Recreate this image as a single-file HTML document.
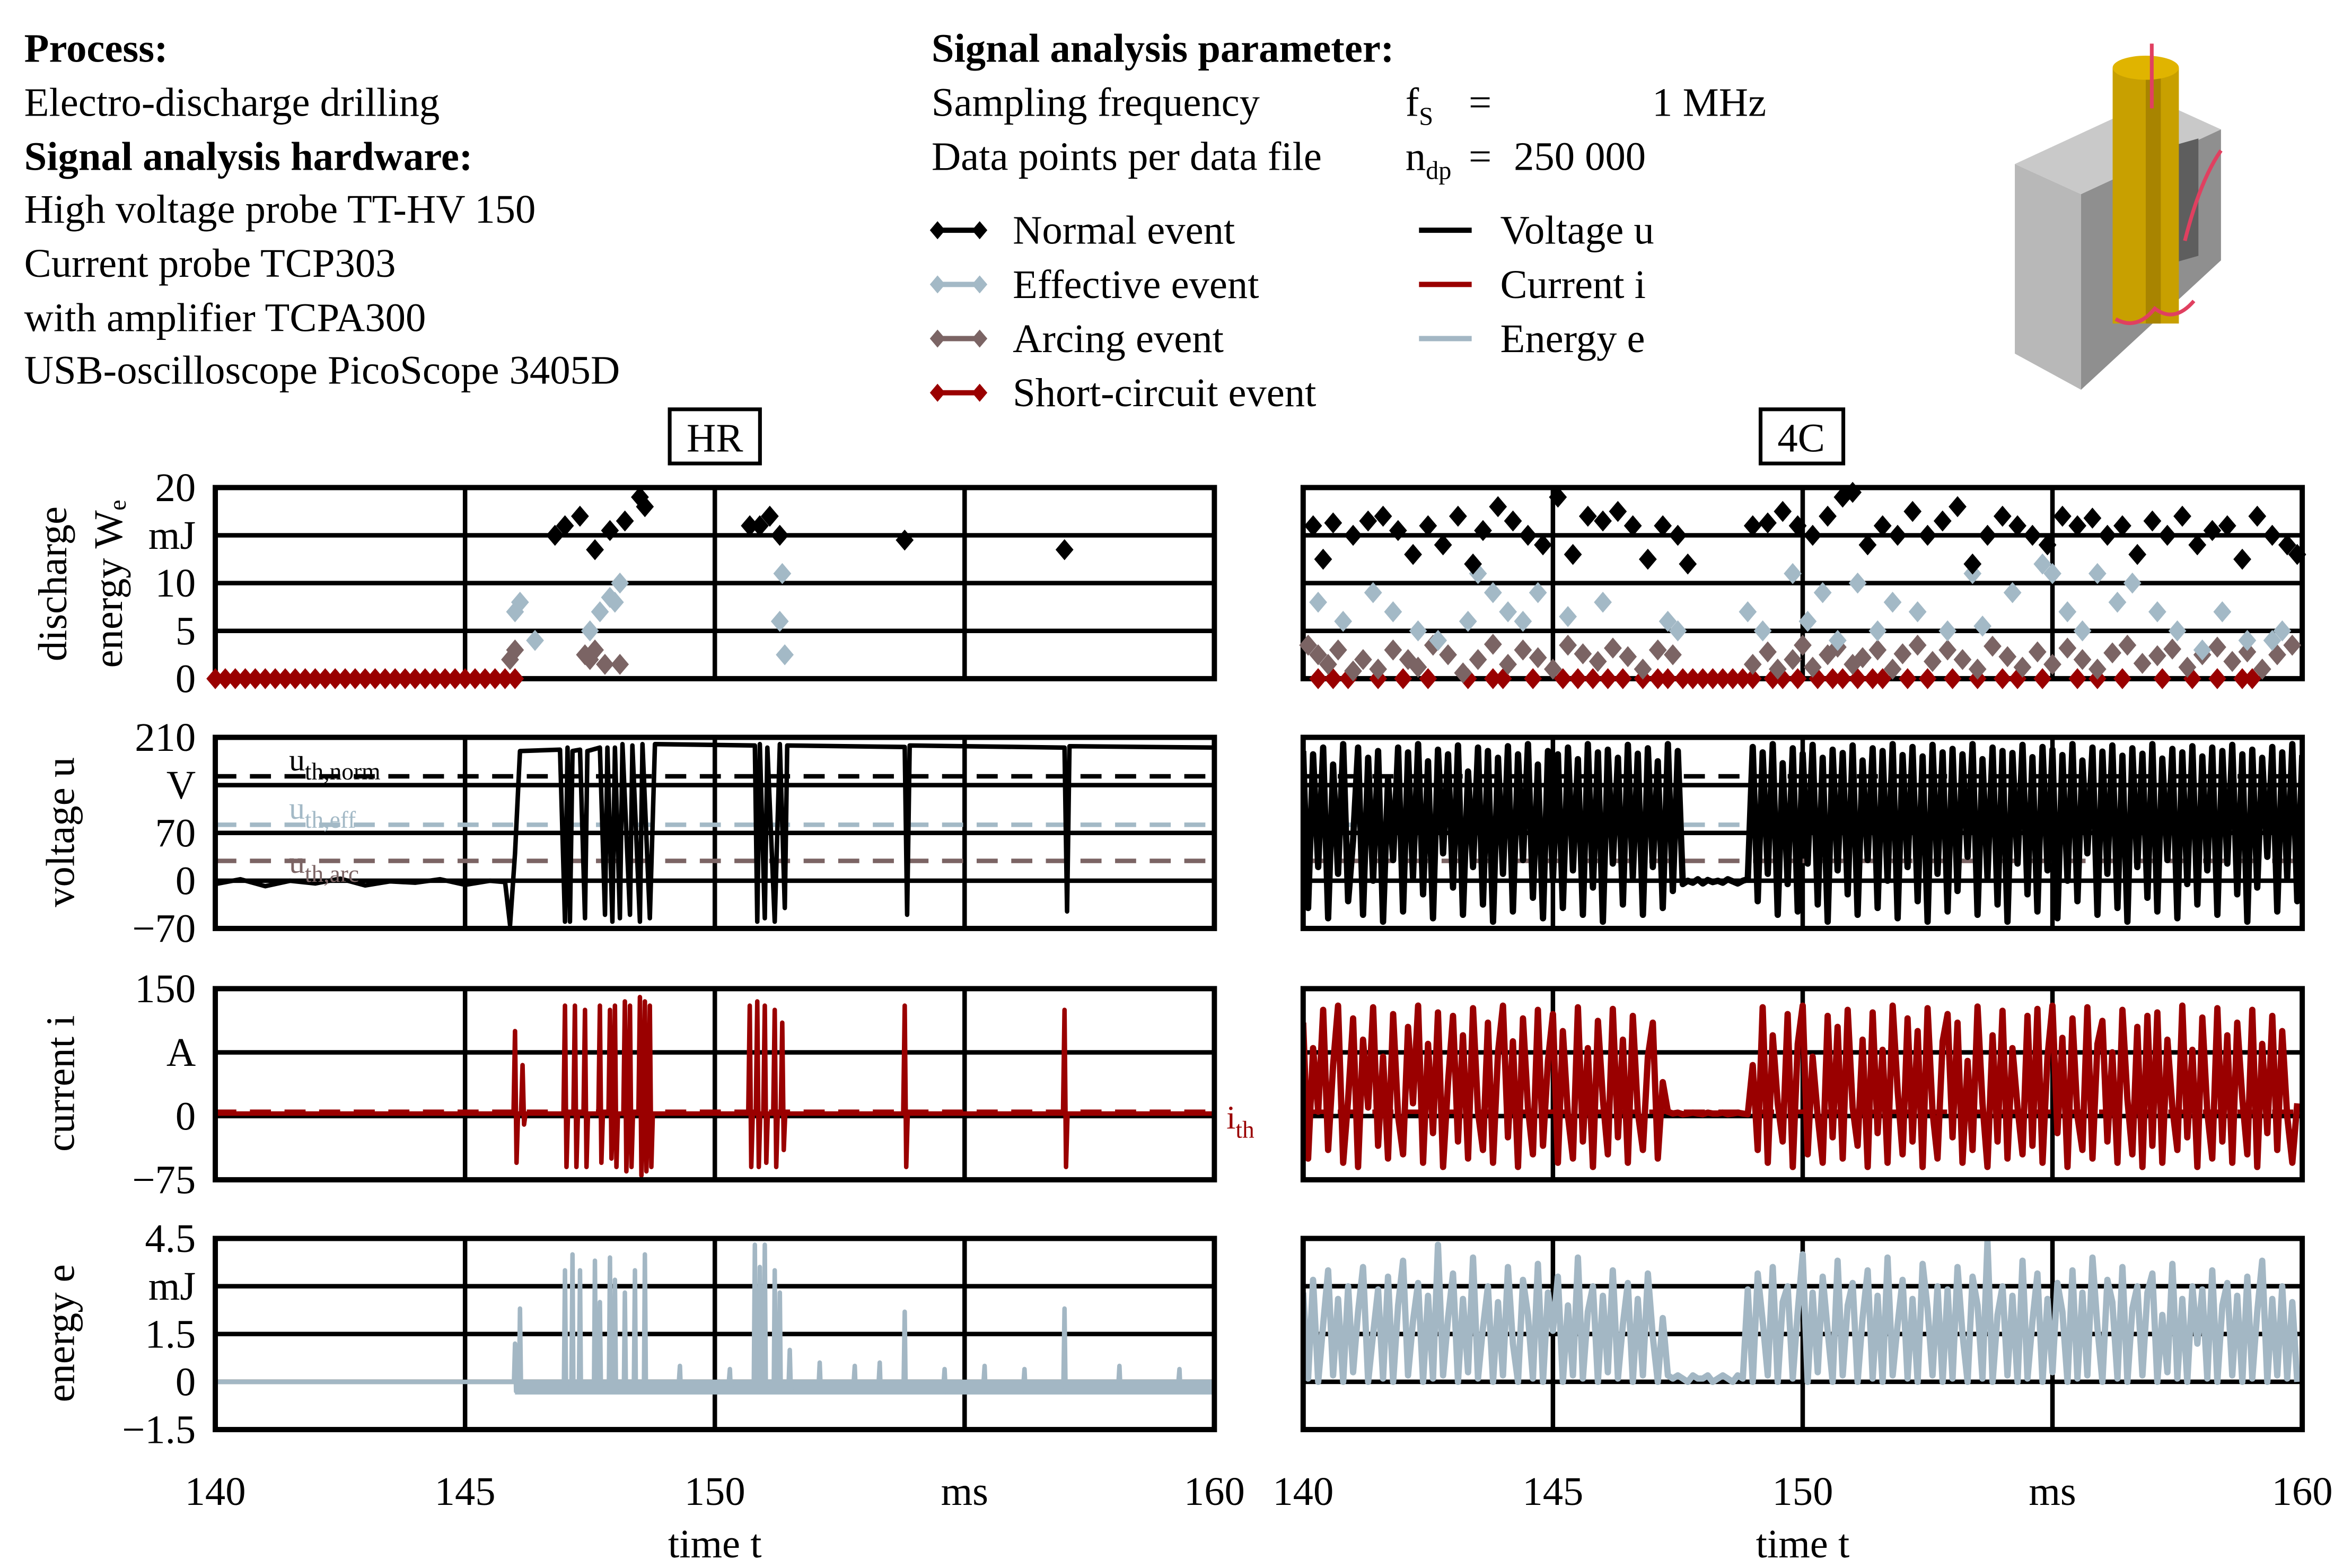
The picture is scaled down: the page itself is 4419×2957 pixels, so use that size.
<!DOCTYPE html>
<html><head><meta charset="utf-8"><style>
html,body{margin:0;padding:0;background:#fff;}
svg{display:block;}
text{font-family:"Liberation Serif",serif;}
</style></head><body>
<svg id="chart" width="4419" height="2957" viewBox="0 0 1557 1042" xmlns="http://www.w3.org/2000/svg">
<g font-size="27">
<text x="16" y="41" font-weight="bold">Process:</text>
<text x="16" y="77">Electro-discharge drilling</text>
<text x="16" y="113" font-weight="bold">Signal analysis hardware:</text>
<text x="16" y="148">High voltage probe TT-HV 150</text>
<text x="16" y="184">Current probe TCP303</text>
<text x="16" y="220">with amplifier TCPA300</text>
<text x="16" y="255">USB-oscilloscope PicoScope 3405D</text>
</g>
<g font-size="27">
<text x="619" y="41" font-weight="bold">Signal analysis parameter:</text>
<text x="619" y="77">Sampling frequency</text>
<text x="934" y="77">f<tspan font-size="17" dy="6">S</tspan></text>
<text x="976" y="77">=</text>
<text x="1098" y="77">1  MHz</text>
<text x="619" y="113">Data points per data file</text>
<text x="934" y="113">n<tspan font-size="17" dy="6">dp</tspan></text>
<text x="976" y="113">=</text>
<text x="1006" y="113">250 000</text>
</g>
<g id="legend" font-size="27"></g>
<g>
<polygon points="1339,109 1383,129 1383,259 1339,235" fill="#b8b8b8"/>
<polygon points="1383,129 1476,86 1476,173 1383,259" fill="#8f8f8f"/>
<polygon points="1339,109 1432,66 1476,86 1383,129" fill="#c9c9c9"/>
<polygon points="1408,107 1461,92 1461,170 1408,185" fill="#5e5e5e"/>
<rect x="1404" y="45" width="44" height="170" fill="#c8a000"/>
<rect x="1426" y="45" width="10" height="170" fill="#a88400"/>
<ellipse cx="1426" cy="45" rx="22" ry="8" fill="#e0b400"/>
<path d="M1430,29 L1430,72 M1452,160 Q1462,120 1476,100 M1406,212 Q1420,220 1432,205 Q1445,215 1458,200" stroke="#e04060" stroke-width="2.5" fill="none"/>
</g>
<g><rect x="445" y="272" width="60" height="36" fill="#fff" stroke="#000" stroke-width="2.5"/><text x="475" y="300" font-size="27" text-anchor="middle">HR</text></g>
<g><rect x="1170" y="272" width="55" height="36" fill="#fff" stroke="#000" stroke-width="2.5"/><text x="1197" y="300" font-size="27" text-anchor="middle">4C</text></g>
<g id="panels"></g>
</svg>
<script>
// ---------- data ----------
const xTicks=["140","145","150","ms","160"];
const yTicksWe=["20","mJ","10","5","0"];
const yTicksU=["210","V","70","0","\u221270"];
const yTicksI=["150","A","0","\u221275"];
const yTicksE=["4.5","mJ","1.5","0","\u22121.5"];
const thresholds=[153,82,29];
const currentThreshold=5;
// HR discharge events
const hrNormT=[146.8,147.0,147.3,147.6,147.9,148.2,148.5,148.6,150.7,150.9,151.1,151.3,153.8,157.0];
const hrNormV=[15,16,17,13.5,15.5,16.5,19,18,16,16,17,15,14.5,13.5];
const hrEffT=[146.0,146.1,146.4,147.5,147.7,147.9,148.0,148.1,151.35,151.3,151.4];
const hrEffV=[7,8,4,5,7,8.5,8,10,11,6,2.5];
const hrArcT=[145.9,146.0,147.4,147.6,147.8,148.1,147.5];
const hrArcV=[2,3,2.5,3,1.5,1.5,2];
const hrShortT=[140.0,140.2,140.4,140.6,140.8,141.0,141.2,141.4,141.6,141.8,142.0,142.2,142.4,142.6,142.8,143.0,143.2,143.4,143.6,143.8,144.0,144.2,144.4,144.6,144.8,145.0,145.2,145.4,145.6,145.8,146.0];
// 4C discharge events
const rNormT=[140.2,140.4,140.6,141.0,141.3,141.6,141.9,142.2,142.5,142.8,143.1,143.4,143.6,143.9,144.2,144.5,144.8,145.1,145.4,145.7,146.0,146.3,146.6,146.9,147.2,147.5,147.7,149.0,149.3,149.6,149.9,150.2,150.5,150.8,151.0,151.3,151.6,151.9,152.2,152.5,152.8,153.1,153.4,153.7,154.0,154.3,154.6,154.9,155.2,155.5,155.8,156.1,156.4,156.7,157.0,157.3,157.6,157.9,158.2,158.5,158.8,159.1,159.4,159.7,159.9];
const rNormV=[16,12.5,16.3,15,16.5,17,15.5,13,16,14,17,12,15.5,18,16.5,15,14,19,13,17,16.5,17.5,16,12.5,16,15,12,16,16.3,17.5,16,15,17,19,19.5,14,16,15,17.5,15,16.5,18,12,15,17,16,15,14,17,16,16.8,15,16,13,16.5,15,17,14,15.5,16,12.5,17,15,14,13];
const rEffT=[140.3,140.8,141.4,141.8,142.3,142.7,143.3,143.5,143.8,144.1,144.4,144.7,145.3,146.0,147.3,147.5,148.9,149.2,149.8,150.1,150.4,150.7,151.1,151.5,151.8,152.3,152.9,153.4,153.6,154.2,154.8,155.0,155.3,155.6,155.9,156.3,156.6,157.1,157.5,158.0,158.4,158.9,159.4,159.6];
const rEffV=[8,6,9,7,5,4,6,11,9,7,6,9,6.5,8,6,5,7,5,11,6,9,4,10,5,8,7,5,11,5.5,9,12,11,7,5,11,8,10,7,5,3,7,4,4,5];
const rArcT=[140.1,140.3,140.5,140.7,141.0,141.2,141.5,141.8,142.1,142.3,142.6,142.9,143.2,143.5,143.8,144.1,144.4,144.7,145.0,145.3,145.6,145.9,146.2,146.5,146.8,147.1,147.4,149.0,149.3,149.5,149.8,150.0,150.2,150.5,150.7,151.0,151.2,151.5,151.8,152.0,152.3,152.6,152.9,153.2,153.5,153.8,154.1,154.4,154.7,155.0,155.3,155.6,155.9,156.2,156.5,156.8,157.1,157.4,157.7,158.0,158.3,158.6,158.9,159.2,159.5,159.8];
const rArcV=[3.5,2.5,1.5,3,0.8,2,1,3,2,1.2,3.5,2.5,0.6,2,3.6,1.5,3,2.2,1,3.5,2.6,1.8,3.2,2.3,1,3,2.5,1.5,2.8,1,2,3.5,1.2,2.5,3.3,1.5,2.2,3,1,2.6,3.5,1.8,3,2,1,3.4,2.3,1.2,2.8,1.5,3.2,2,1,2.7,3.5,1.6,2.4,3.1,1.2,2.5,3.3,1.8,2.8,1,2.5,3.5];
const rShortT=[140.3,140.6,140.9,141.5,142.0,142.5,143.3,143.8,144.0,144.6,145.2,145.5,145.8,146.1,146.4,146.8,147.1,147.3,147.6,147.8,148.0,148.2,148.4,148.6,148.8,149.0,149.4,149.6,149.9,150.3,150.6,150.8,151.1,151.4,151.6,152.1,152.5,153.0,153.5,154.0,154.3,154.8,155.5,155.9,156.4,157.2,157.8,158.3,158.8,159.0];
// HR voltage (breakpoints)
const hrVoltT=[140,140.5,141,141.5,142,142.5,143,143.5,144,144.5,145,145.5,145.8,145.9,146.0,146.1,146.9,147.0,147.05,147.1,147.15,147.3,147.4,147.45,147.7,147.8,147.85,147.95,148.0,148.1,148.15,148.3,148.35,148.5,148.55,148.7,148.8,150.8,150.85,150.9,151.0,151.05,151.2,151.3,151.4,151.45,153.8,153.85,153.9,157.0,157.05,157.1,160];
const hrVoltV=[-5,2,-8,0,-4,3,-7,-1,-3,2,-6,0,-2,-65,40,190,192,-60,195,-60,190,192,-55,190,195,-50,195,-60,195,-55,200,-50,198,-60,200,-55,200,198,-60,200,-55,195,-60,200,-40,198,196,-50,198,195,-45,197,195];
// HR current spikes
const hrCurT=[146.0,146.15,147.0,147.2,147.4,147.7,147.9,148.0,148.2,148.3,148.5,148.6,148.7,150.7,150.85,151.0,151.2,151.35,153.8,157.0];
const hrCurHi=[100,60,130,130,125,130,125,130,135,130,140,135,130,130,135,130,125,110,130,125];
const hrCurLo=[-55,-10,-60,-60,-60,-55,-50,-60,-65,-60,-70,-65,-60,-60,-60,-55,-60,-40,-60,-60];
// HR energy spikes
const hrEnT=[146.0,146.1,147.0,147.15,147.3,147.6,147.7,147.9,148.0,148.2,148.4,148.6,150.8,150.9,151.0,151.2,151.3,151.5,153.8,157.0,149.3,150.3,152.1,152.8,153.3,154.6,155.4,156.2,158.1,159.3];
const hrEnV=[1.2,2.3,3.5,4.0,3.5,3.8,2.5,3.9,3.2,2.8,3.5,4.0,4.3,3.6,4.3,3.5,2.8,1.0,2.2,2.3,0.5,0.4,0.6,0.5,0.6,0.4,0.5,0.4,0.5,0.4];
// 4C series (sampled every 0.1 ms from 140 ms)
const rVolt=[190,-40,185,20,195,-55,170,10,200,-30,60,195,-50,180,0,190,-60,150,30,195,-45,188,5,200,-20,175,-55,192,40,185,-10,198,-50,160,20,195,-35,190,-60,180,10,197,-45,185,30,200,-25,170,-55,190,0,185,-40,195,15,178,-50,200,-10,188,-60,192,25,180,-35,199,5,186,-50,194,20,175,-40,200,-15,190,-5,0,-3,2,-4,1,-2,0,-3,2,-1,-4,0,2,196,-30,188,10,200,-50,172,-5,194,-45,186,25,199,-35,180,-60,192,15,187,-20,198,-50,176,30,194,-40,190,0,200,-55,184,20,196,-30,182,-60,199,10,188,-45,193,-15,185,35,200,-50,178,5,195,-35,190,-60,187,25,199,-20,181,-45,196,15,192,-55,184,0,200,-30,176,40,195,-50,189,10,198,-40,183,-60,194,20,186,-25,200,-45,179,30,193,-55,188,-5,197,-35,182,15,195,-50,190,25,199,-20,185,-60,192,-10,180,35,196,-45,188,5,200,-30,184];
const rCur=[110,-50,80,5,125,-40,60,130,-55,20,115,-60,90,10,128,-35,70,-50,120,0,-45,105,15,130,-55,85,-20,122,-60,40,118,-30,95,-50,127,5,-40,110,-55,75,130,-25,88,-60,115,10,-45,125,-35,65,120,-55,100,0,-50,128,-30,80,-60,112,20,-45,126,-25,90,-55,118,5,-40,70,110,-50,40,5,3,4,2,3,4,3,2,4,3,3,4,2,3,4,3,2,60,-40,128,-55,95,15,-30,120,-60,85,130,-45,70,0,-55,118,-25,105,-50,125,10,-35,90,-60,122,-20,78,-55,130,30,-45,115,-30,100,-60,127,5,-50,88,120,-25,110,-55,65,-40,129,15,-60,95,-30,124,-50,80,10,-45,118,-35,126,-55,70,130,-20,92,-60,115,0,-40,128,-50,85,112,-30,75,-55,125,20,-45,105,-60,118,-35,122,-55,90,10,-40,130,-25,78,-60,116,5,-50,127,-30,95,-55,110,20,-45,125,-60,85,-20,118,-40,100,0,-55,15];
const rEn=[2.8,0.1,3.2,0.0,1.8,3.5,0.2,2.6,0.0,3.0,0.3,2.2,3.6,0.0,1.5,2.9,0.1,3.3,0.0,2.4,3.8,0.2,1.9,3.1,0.0,2.7,0.1,4.3,0.2,2.0,3.4,0.0,2.6,0.3,3.9,0.1,1.7,3.0,0.0,2.5,0.2,3.6,1.2,0.0,3.2,2.1,0.1,3.7,0.0,2.8,1.6,3.3,0.0,2.4,0.2,3.9,0.1,2.2,3.0,0.0,2.7,0.3,3.5,0.1,1.8,3.1,0.0,2.6,0.2,3.4,1.4,0.0,2.0,0.2,0.1,0.2,0.1,0.0,0.2,0.1,0.1,0.2,0.0,0.1,0.2,0.1,0.0,0.2,0.1,2.9,0.0,3.4,1.9,0.2,3.6,0.0,2.5,3.0,0.1,2.2,4.0,0.0,2.8,0.3,3.3,1.6,0.0,3.8,0.2,2.4,3.1,0.0,2.0,3.5,0.1,2.7,0.0,3.9,0.2,1.8,3.2,0.1,2.6,0.0,3.7,2.3,0.2,3.0,0.0,2.9,0.1,3.6,1.5,0.0,3.3,2.4,0.1,4.4,0.0,2.1,3.0,0.2,2.7,0.0,3.8,0.1,1.9,3.4,0.0,2.6,0.3,3.1,2.2,0.0,3.5,0.1,2.8,0.2,3.9,1.7,0.0,3.2,2.5,0.1,3.6,0.0,2.3,3.0,0.2,2.8,3.4,0.0,2.1,0.3,3.7,0.1,2.6,0.0,3.0,1.2,2.9,0.1,3.5,0.0,2.4,3.1,0.2,2.7,0.0,3.3,0.1,2.2,3.8,0.0,2.6,0.2,3.0,0.1,2.5,0.0];

// ---------- helpers ----------
const NS="http://www.w3.org/2000/svg";
const C={norm:"#000",eff:"#a3b9c6",arc:"#7b6464",short:"#9a0000",en:"#a3b7c4"};
const rowsTop=[324,490,657,823], H=127;
const colsX=[[143,807],[866,1530]];
const ranges=[[0,20],[-70,210],[-75,150],[-1.5,4.5]];
const root=document.getElementById('panels');
function mk(tag,attrs,parent){const e=document.createElementNS(NS,tag);for(const k in attrs)e.setAttribute(k,attrs[k]);(parent||root).appendChild(e);return e;}
function xs(c){const [a,b]=colsX[c];return t=>a+(t-140)/20*(b-a);}
function ys(r){const [lo,hi]=ranges[r];return v=>rowsTop[r]+(hi-v)/(hi-lo)*H;}
function diamond(g,x,y,col,s){const p=mk('polygon',{points:`${x},${y-s} ${x+s*0.85},${y} ${x},${y+s} ${x-s*0.85},${y}`,fill:col},g);

}
function scatter(g,c,r,T,V,col){const X=xs(c),Y=ys(r);for(let i=0;i<T.length;i++)diamond(g,X(T[i]),Y(V[i]),col,7);}
function line(g,pts,col,w,dash){const p=mk('polyline',{points:pts.map(p=>p[0].toFixed(1)+','+p[1].toFixed(1)).join(' '),fill:'none',stroke:col,'stroke-width':w,'stroke-linejoin':'round'},g);if(dash)p.setAttribute('stroke-dasharray',dash);return p;}

// ---------- panels ----------
const names=['discharge-energy','voltage','current','energy'];
const yt=[yTicksWe,yTicksU,yTicksI,yTicksE];
for(let c=0;c<2;c++)for(let r=0;r<4;r++){
  const [x0,x1]=colsX[c], top=rowsTop[r];
  const g=mk('g',{});
  
  
  const cid='clip'+c+r;
  const cp=mk('clipPath',{id:cid},g);mk('rect',{x:x0,y:top,width:x1-x0,height:H},cp);
  const nt=yt[r].length;
  for(let k=1;k<nt-1;k++){const y=top+k*H/(nt-1);mk('line',{x1:x0,x2:x1,y1:y,y2:y,stroke:'#000','stroke-width':3},g);}
  for(let k=1;k<4;k++){const x=x0+k*(x1-x0)/4;mk('line',{x1:x,x2:x,y1:top,y2:top+H,stroke:'#000','stroke-width':3},g);}
  const d=mk('g',{'clip-path':`url(#${cid})`},g);
  const X=xs(c),Y=ys(r);
  const lw=c===0?3:4.2;
  if(r===1){
    const cols=[C.norm,C.eff,C.arc];
    thresholds.forEach((v,i)=>{const l=line(d,[[x0,Y(v)],[x1,Y(v)]],cols[i],3,'14,9');});
    let pts;
    if(c===0)pts=hrVoltT.map((t,i)=>[X(t),Y(hrVoltV[i])]);
    else pts=rVolt.map((v,i)=>[X(140+i*0.1),Y(v)]);
    const l=line(d,pts,'#000',lw);
  }
  if(r===2){
    let pts=[];
    if(c===0){pts.push([X(140),Y(3)]);hrCurT.forEach((t,i)=>{pts.push([X(t-0.03),Y(3)],[X(t),Y(hrCurHi[i])],[X(t+0.03),Y(hrCurLo[i])],[X(t+0.06),Y(3)]);});pts.push([X(160),Y(3)]);}
    else pts=rCur.map((v,i)=>[X(140+i*0.1),Y(v)]);
    const l=line(d,pts,C.short,lw);
    line(d,[[x0,Y(currentThreshold)],[x1,Y(currentThreshold)]],C.short,3,'14,9');
  }
  if(r===3){
    let pts=[];
    if(c===0){mk('rect',{x:X(146),y:Y(0),width:X(160)-X(146),height:Y(-0.4)-Y(0),fill:C.en},d);
      pts.push([X(140),Y(0)]);const o=hrEnT.map((t,i)=>[t,hrEnV[i]]).sort((a,b)=>a[0]-b[0]);
      o.forEach(([t,v])=>{pts.push([X(t-0.02),Y(0)],[X(t),Y(v)],[X(t+0.02),Y(-0.3)],[X(t+0.04),Y(0)]);});pts.push([X(160),Y(0)]);}
    else pts=rEn.map((v,i)=>[X(140+i*0.1),Y(v)]);
    const l=line(d,pts,C.en,lw);
  }
  mk('rect',{x:x0,y:top,width:x1-x0,height:H,fill:'none',stroke:'#000','stroke-width':3.5},g);
  if(r===0){
    const s=mk('g',{},g);
    if(c===0){scatter(s,0,0,hrShortT,hrShortT.map(()=>0),C.short);scatter(s,0,0,hrArcT,hrArcV,C.arc);scatter(s,0,0,hrEffT,hrEffV,C.eff);scatter(s,0,0,hrNormT,hrNormV,C.norm);}
    else{scatter(s,1,0,rShortT,rShortT.map(()=>0),C.short);scatter(s,1,0,rArcT,rArcV,C.arc);scatter(s,1,0,rEffT,rEffV,C.eff);scatter(s,1,0,rNormT,rNormV,C.norm);}
  }
  if(c===0){yt[r].forEach((s,k)=>{const t=mk('text',{x:130,y:top+k*H/(yt[r].length-1)+9,'font-size':27,'text-anchor':'end'},g);t.textContent=s;});}
  if(r===3){xTicks.forEach((s,k)=>{const t=mk('text',{x:x0+k*(x1-x0)/4,y:1000,'font-size':27,'text-anchor':'middle'},g);t.textContent=s;});
    const tt=mk('text',{x:(x0+x1)/2,y:1035,'font-size':27,'text-anchor':'middle'},g);tt.textContent='time t';}
}
const lab=mk('g',{'font-size':21});


[['#000',512,'norm'],['#a3b9c6',544,'eff'],['#7b6464',580,'arc']].forEach(([col,y,s])=>{const t=mk('text',{x:192,y:y,fill:col},lab);t.innerHTML=`u<tspan font-size="16" dy="6">th,${s}</tspan>`;});
const ith=mk('text',{x:815,y:750,'font-size':22,fill:C.short},lab);ith.innerHTML='i<tspan font-size="16" dy="6">th</tspan>';
const yl=[['discharge',35,388],['energy W\u2091',72,388],['voltage u',40,553],['current i',40,720],['energy e',40,886]];
yl.forEach(([s,x,y])=>{const t=mk('text',{x:x,y:y,'font-size':27,'text-anchor':'middle',transform:`rotate(-90 ${x} ${y})`,dy:9});t.textContent=s;

});
const lg=document.getElementById('legend');
const legE=[['Normal event',C.norm],['Effective event',C.eff],['Arcing event',C.arc],['Short-circuit event',C.short]];
legE.forEach(([s,col],i)=>{const y=153+i*36;const g=mk('g',{},lg);


mk('line',{x1:624,x2:650,y1:y,y2:y,stroke:col,'stroke-width':3.5},g);diamond(g,623,y,col,6);diamond(g,651,y,col,6);
const t=mk('text',{x:673,y:y+9},g);t.textContent=s;});
const legL=[['Voltage u','#000'],['Current i',C.short],['Energy e',C.en]];
legL.forEach(([s,col],i)=>{const y=153+i*36;const g=mk('g',{},lg);


mk('line',{x1:943,x2:978,y1:y,y2:y,stroke:col,'stroke-width':3.5},g);const t=mk('text',{x:997,y:y+9},g);t.textContent=s;});
</script>
</body></html>
